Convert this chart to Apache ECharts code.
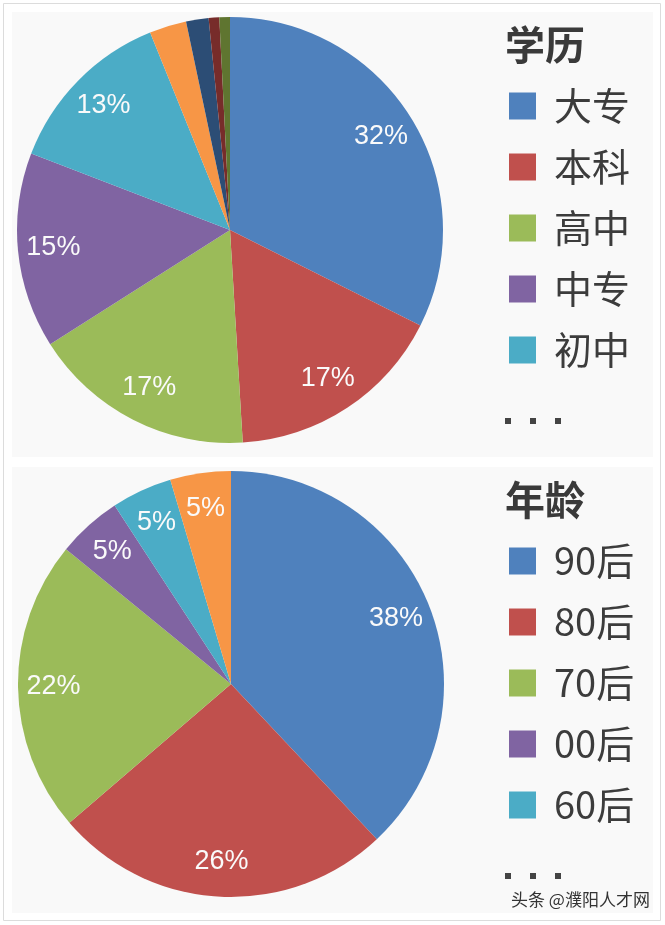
<!DOCTYPE html>
<html><head><meta charset="utf-8">
<script src="https://cdn.jsdelivr.net/npm/echarts@6/dist/echarts.min.js"></script>
<style>html,body{margin:0;padding:0;background:#fff}#c{width:665px;height:925px}</style>
</head><body><div id="c"></div>
<script>
// ---- data ----
const eduTitle = '学历';
const eduNames = ['大专','本科','高中','中专','初中','小学','研究生','技校','其他'];
const eduValues = [32.3, 16.6, 16.9, 14.8, 13.0, 2.8, 1.7, 0.8, 0.8];
const ageTitle = '年龄';
const ageNames = ['90后','80后','70后','00后','60后','其他'];
const ageValues = [38.0, 25.7, 22.2, 4.9, 4.6, 4.6];
const watermark = '头条 @濮阳人才网';

// ---- styles ----
const palette = ['#4F81BD','#C0504D','#9BBB59','#8064A2','#4BACC6','#F79646','#2C4D75','#772C2A','#5F7530'];

function mk(names, values){
  return names.map((n,i)=>({name:n, value:values[i], itemStyle:{color:palette[i]}}));
}
const fmt = p => p.percent >= 4 ? Math.round(p.percent) + '%' : '';

function pies(center, names, values){
  return [
    {type:'pie', center:center, radius:213, startAngle:90, clockwise:true,
     data: mk(names, values), label:{show:false}, labelLine:{show:false},
     itemStyle:{borderWidth:0}, emphasis:{disabled:true}, animation:false, silent:true},
    {type:'pie', center:center, radius:[136,213], startAngle:90, clockwise:true,
     data: names.map((n,i)=>({name:n, value:values[i], itemStyle:{color:'rgba(0,0,0,0)'}})),
     label:{show:true, position:'inside', formatter:fmt, color:'#fafafa', fontSize:27,
            fontFamily:'Liberation Sans', textBorderWidth:0},
     labelLine:{show:false}, itemStyle:{borderWidth:0}, emphasis:{disabled:true},
     animation:false, silent:true}
  ];
}

function legend(top, names){
  return {orient:'vertical', left:504, top:top, data:names.slice(0,5), icon:'rect',
    itemWidth:27, itemHeight:27, itemGap:23, selectedMode:false,
    textStyle:{fontFamily:'Noto Sans CJK SC', fontSize:38, lineHeight:38, color:'#3c3c3c', padding:[0,0,0,13]}};
}

function dots(y){
  return [0,1,2].map(k=>({type:'rect', shape:{x:505+k*25, y:y, width:6, height:6}, style:{fill:'#444'}}));
}

const chart = echarts.init(document.getElementById('c'), null, {renderer:'canvas'});
chart.setOption({
  animation:false,
  backgroundColor:'#fff',
  graphic:[
    {type:'rect', shape:{x:3.5, y:3.5, width:657, height:917}, style:{fill:'#fff', stroke:'#dcdcdc', lineWidth:1}, z:-10},
    {type:'rect', shape:{x:12, y:12, width:641, height:445}, style:{fill:'#f9f9f9'}, z:-9},
    {type:'rect', shape:{x:12, y:467, width:641, height:446}, style:{fill:'#f9f9f9'}, z:-9},
    ...dots(418),
    ...dots(873),
    {type:'text', left:511, top:891, style:{text:watermark, fontFamily:'Noto Sans CJK SC', fontSize:17, fill:'#333'}}
  ],
  title:[
    {text:eduTitle, left:500, top:20, textStyle:{fontFamily:'Noto Sans CJK SC', fontSize:40, fontWeight:'bold', color:'#3a3a3a'}},
    {text:ageTitle, left:500, top:475, textStyle:{fontFamily:'Noto Sans CJK SC', fontSize:40, fontWeight:'bold', color:'#3a3a3a'}}
  ],
  legend:[legend(82, eduNames), legend(537, ageNames)],
  series:[...pies([230,230], eduNames, eduValues), ...pies([231,684], ageNames, ageValues)]
});
</script></body></html>
